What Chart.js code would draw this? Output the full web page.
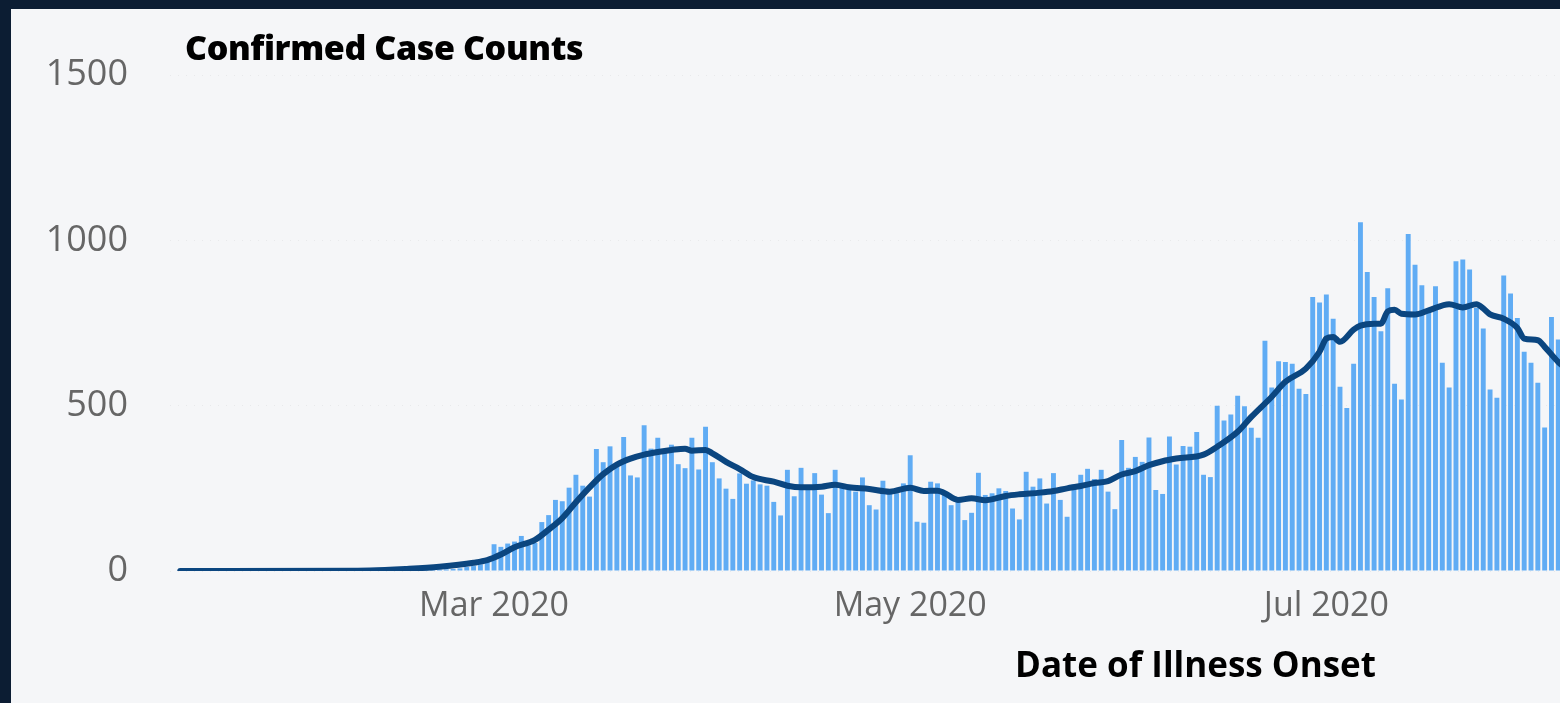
<!DOCTYPE html>
<html>
<head>
<meta charset="utf-8">
<script src="https://cdn.jsdelivr.net/npm/chart.js@4.4.1/dist/chart.umd.min.js"></script>
<style>
  html, body { margin:0; padding:0; width:1560px; height:703px; overflow:hidden; background:#0c1d33; }
  #panel { position:absolute; left:11px; top:9px; width:1549px; height:694px; background:#f5f6f8; }
  #wrap { position:absolute; left:0; top:0; width:1560px; height:703px; }
  .ttl { position:absolute; font-family:'Open Sans', sans-serif; font-weight:800; color:#000; white-space:nowrap; line-height:1; }
  #title { left:185px; top:30px; font-size:34px; letter-spacing:-0.4px; }
  #xtitle { left:1015px; top:646px; font-size:35px; font-weight:700; }
</style>
</head>
<body>
<div id="panel"></div>
<div id="wrap"><canvas id="c" width="1560" height="703"></canvas></div>
<div id="title" class="ttl">Confirmed Case Counts</div>
<div id="xtitle" class="ttl">Date of Illness Onset</div>
<script>
// ---- data ----
const axisOrigin = '2020-03-01';          // day 0 of the x scale
const barStartDate = '2020-02-16';        // first daily bar
const dailyCases = [
  1,1,2,2,3,3,4,5,6,8,12,15,20,28,
  81,73,83,89,106,78,85,148,169,215,
  211,252,291,258,225,369,329,377,320,405,
  289,283,441,370,403,362,382,323,311,403,
  307,436,329,280,249,218,295,264,274,262,
  258,209,168,306,226,312,250,296,231,175,
  306,252,245,240,283,199,186,273,235,235,
  265,350,149,146,270,265,235,199,219,154,
  176,297,230,235,250,242,189,156,300,255,
  280,204,296,215,164,262,291,309,278,306,
  240,187,396,312,345,330,404,245,233,407,
  322,378,376,420,291,284,500,455,473,530,
  498,433,403,696,555,634,632,627,551,535,
  829,812,836,763,557,493,627,1055,904,829,
  725,855,566,519,1019,926,864,785,861,630,
  555,937,942,912,795,733,549,524,894,839,
  765,663,630,569,434,768,700,678
];
const avgDates = [
  '2020-01-15','2020-02-10','2020-02-14','2020-02-17','2020-02-22','2020-02-27','2020-02-29',
  '2020-03-02','2020-03-04','2020-03-07','2020-03-09','2020-03-11','2020-03-13','2020-03-15',
  '2020-03-17','2020-03-19','2020-03-21','2020-03-23','2020-03-25','2020-03-27','2020-03-29',
  '2020-03-30','2020-04-01','2020-04-02','2020-04-04','2020-04-06','2020-04-08','2020-04-11',
  '2020-04-13','2020-04-15','2020-04-18','2020-04-20','2020-04-22','2020-04-25','2020-04-28',
  '2020-05-01','2020-05-03','2020-05-05','2020-05-06','2020-05-08','2020-05-10','2020-05-12',
  '2020-05-15','2020-05-17','2020-05-20','2020-05-22','2020-05-24','2020-05-26','2020-05-28',
  '2020-05-30','2020-06-01','2020-06-03','2020-06-05','2020-06-07','2020-06-09','2020-06-13',
  '2020-06-15','2020-06-18','2020-06-20','2020-06-23','2020-06-25','2020-06-28','2020-06-30',
  '2020-07-01','2020-07-02','2020-07-03','2020-07-05','2020-07-06','2020-07-08','2020-07-09',
  '2020-07-10','2020-07-11','2020-07-12','2020-07-14','2020-07-16','2020-07-19','2020-07-21',
  '2020-07-23','2020-07-24','2020-07-25','2020-07-27','2020-07-29','2020-07-30','2020-08-01',
  '2020-08-02','2020-08-04','2020-08-05'
];
const avgValues = [
  0,1,3,6,13,25,33,
  50,72,94,125,160,208,253,
  293,322,340,352,360,366,370,
  364,366,356,330,308,284,270,
  258,253,255,261,253,248,240,
  252,242,243,236,215,220,214,
  227,232,237,242,250,257,266,
  272,292,302,320,332,340,352,
  376,421,466,527,572,612,663,
  703,708,693,730,742,748,748,
  785,790,778,776,788,807,797,
  807,794,776,763,735,703,698,
  678,632,615
];
const xTickDates = ['2020-03-01','2020-05-01','2020-07-01'];
const xTickLabels = ['Mar 2020','May 2020','Jul 2020'];
const yTickValues = [0,500,1000,1500];

// ---- helpers ----
const DAY = 86400000;
function dayIndex(s) {
  return Math.round((Date.parse(s + 'T00:00:00Z') - Date.parse(axisOrigin + 'T00:00:00Z')) / DAY);
}
const barStart = dayIndex(barStartDate);
const barPoints = dailyCases.map((v, i) => ({ x: barStart + i, y: v }));
const avgPoints = avgDates.map((d, i) => ({ x: dayIndex(d), y: avgValues[i] }));
const xTickDays = xTickDates.map(dayIndex);

new Chart(document.getElementById('c'), {
  type: 'bar',
  data: {
    datasets: [
      {
        type: 'line',
        label: '7-day average',
        data: avgPoints,
        borderColor: '#0b4680',
        borderWidth: 6,
        pointRadius: 0,
        cubicInterpolationMode: 'monotone',
        borderCapStyle: 'round',
        borderJoinStyle: 'round',
        order: 0
      },
      {
        type: 'bar',
        label: 'Daily cases',
        data: barPoints,
        backgroundColor: '#60acf4',
        categoryPercentage: 1,
        barPercentage: 0.72,
        order: 1
      }
    ]
  },
  options: {
    responsive: false,
    animation: false,
    devicePixelRatio: 1,
    layout: { padding: { top: 75, left: 0, right: -3, bottom: 72 } },
    plugins: { legend: { display: false }, tooltip: { enabled: false }, title: { display: false } },
    scales: {
      x: {
        type: 'linear',
        offset: false,
        min: dayIndex('2020-01-13') + 0.5,
        max: dayIndex('2020-08-04') + 0.25,
        grid: { display: false, drawTicks: false },
        border: { display: false },
        afterBuildTicks: (s) => { s.ticks = xTickDays.map(v => ({ value: v })); },
        afterFit: (s) => { s.height = 60; },
        ticks: {
          autoSkip: false, maxRotation: 0, padding: 15,
          color: '#666666',
          font: { family: "'Open Sans', sans-serif", size: 34 },
          callback: (v) => { const i = xTickDays.indexOf(v); return i >= 0 ? xTickLabels[i] : ''; }
        }
      },
      y: {
        min: 0, max: 1500,
        afterBuildTicks: (s) => { s.ticks = yTickValues.map(v => ({ value: v })); },
        afterFit: (s) => { s.width = 170; },
        grid: { display: true, drawTicks: false, color: 'rgba(0,0,0,0.05)', lineWidth: 1 },
        border: { display: false, dash: [1, 7] },
        ticks: {
          padding: 42,
          color: '#666666',
          font: { family: "'Open Sans', sans-serif", size: 36 },
          callback: (v) => String(v)
        }
      }
    }
  }
});
</script>
</body>
</html>
